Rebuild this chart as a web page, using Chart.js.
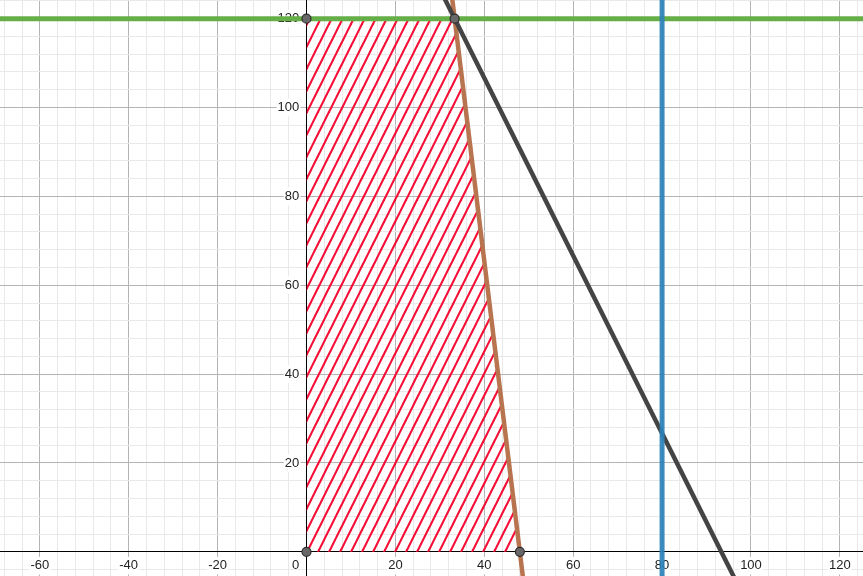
<!DOCTYPE html>
<html>
<head>
<meta charset="utf-8">
<script src="https://cdn.jsdelivr.net/npm/chart.js@4"></script>
<style>
  html, body { margin: 0; padding: 0; background: #fff; }
  #wrap { width: 863px; height: 576px; position: relative; }
</style>
</head>
<body>
<div id="wrap"><canvas id="c"></canvas></div>
<script>
// ---- data ----
const xRange = [-68.95, 125.2];
const yRange = [-5.44, 124.2];
const gridStep = 4;
const labelStep = 20;

// feasible (hatched) region boundary, filled down to y = 0
const regionX = [0, 33.33, 48];
const regionY = [120, 120, 0];

// constraint lines (end points lie outside the view)
const greenX = [-80, 140];
const greenY = [120, 120];
const blueX = [80, 80];
const blueY = [-10, 130];
const darkX = [28.33, 98.33];
const darkY = [130, -10];
const brownX = [32.11, 49.22];
const brownY = [130, -10];

// corner points
const cornerX = [0, 33.33, 0, 48];
const cornerY = [120, 120, 0, 0];

const zip = (xs, ys) => xs.map((x, i) => ({ x: x, y: ys[i] }));

function makeHatch(color) {
  const c = document.createElement('canvas');
  c.width = 11; c.height = 22;
  const g = c.getContext('2d');
  g.strokeStyle = color;
  g.lineWidth = 2.1;
  for (const o of [-11, 0, 11]) {
    g.beginPath();
    g.moveTo(o - 11, 44);
    g.lineTo(o + 22, -22);
    g.stroke();
  }
  return g.createPattern(c, 'repeat');
}

const FONT = { family: 'Arial, "Liberation Sans", sans-serif', size: 13 };

const isZero = v => Math.abs(v) < 1e-9;
const isMajor = v => Math.abs(v % labelStep) < 1e-9;

function gridColor(ctx) {
  const v = ctx.tick ? ctx.tick.value : NaN;
  if (isZero(v)) return '#000000';
  if (isMajor(v)) return '#b4b4b4';
  return '#e9e9e9';
}
function backdrop(ctx) {
  const v = ctx.tick ? ctx.tick.value : NaN;
  return (!isZero(v) && isMajor(v)) ? '#ffffff' : 'rgba(0,0,0,0)';
}
function noPad(s) {
  s.paddingLeft = 0; s.paddingRight = 0; s.paddingTop = 0; s.paddingBottom = 0;
}

new Chart(document.getElementById('c'), {
  type: 'scatter',
  data: {
    datasets: [
      {
        label: 'corners', data: zip(cornerX, cornerY), order: 0,
        pointRadius: 4.5, pointHoverRadius: 4.5,
        backgroundColor: '#686868', borderColor: '#2e2e2e', borderWidth: 1.2,
        showLine: false
      },
      {
        label: 'blue', data: zip(blueX, blueY), order: 1, showLine: true,
        borderColor: 'rgba(45,130,185,0.92)', borderWidth: 5, pointRadius: 0
      },
      {
        label: 'dark', data: zip(darkX, darkY), order: 2, showLine: true,
        borderColor: '#444444', borderWidth: 4.5, pointRadius: 0
      },
      {
        label: 'brown', data: zip(brownX, brownY), order: 3, showLine: true,
        borderColor: '#b8744f', borderWidth: 4.5, pointRadius: 0
      },
      {
        label: 'green', data: zip(greenX, greenY), order: 4, showLine: true,
        borderColor: '#66ae48', borderWidth: 5, pointRadius: 0
      },
      {
        label: 'region', data: zip(regionX, regionY), order: 5, showLine: true,
        borderWidth: 0, borderColor: 'rgba(0,0,0,0)', pointRadius: 0,
        fill: 'origin', backgroundColor: makeHatch('rgb(246,12,52)')
      }
    ]
  },
  options: {
    responsive: true,
    maintainAspectRatio: false,
    devicePixelRatio: 1,
    animation: false,
    events: [],
    layout: { padding: 0, autoPadding: false },
    plugins: { legend: { display: false }, title: { display: false }, tooltip: { enabled: false } },
    scales: {
      x: {
        type: 'linear', min: xRange[0], max: xRange[1],
        position: { y: 0 },
        afterFit: s => { s.height = 0; noPad(s); },
        border: { display: true, color: '#000', width: 1 },
        grid: { color: gridColor, lineWidth: 1, drawTicks: false },
        ticks: {
          stepSize: gridStep, includeBounds: false, autoSkip: false,
          maxRotation: 0, minRotation: 0, padding: 6,
          font: FONT, color: '#222',
          showLabelBackdrop: true, backdropPadding: 1,
          backdropColor: backdrop,
          callback: v => {
            if (isZero(v)) return '0      ';
            return isMajor(v) ? String(Math.round(v)) : '';
          }
        }
      },
      y: {
        type: 'linear', min: yRange[0], max: yRange[1],
        position: { x: 0 },
        afterFit: s => { s.width = 0; noPad(s); },
        border: { display: true, color: '#000', width: 1 },
        grid: { color: gridColor, lineWidth: 1, drawTicks: false },
        ticks: {
          stepSize: gridStep, includeBounds: false, autoSkip: false,
          padding: 6,
          font: FONT, color: '#222',
          showLabelBackdrop: true,
          backdropPadding: { left: 1, top: 1, bottom: 1, right: -6 },
          backdropColor: backdrop,
          callback: v => {
            if (isZero(v)) return '';
            return isMajor(v) ? String(Math.round(v)) + '  ' : '';
          }
        }
      }
    }
  }
});
</script>
</body>
</html>
